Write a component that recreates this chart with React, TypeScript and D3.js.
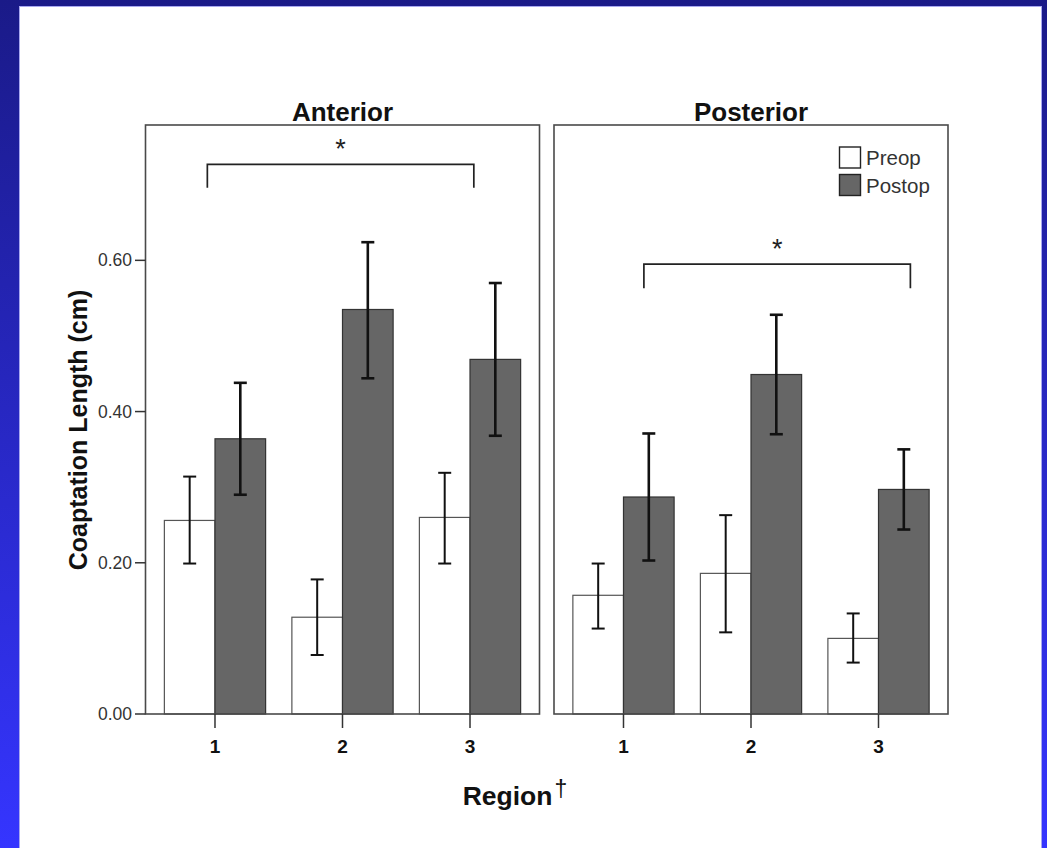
import React from "react";
import * as d3 from "d3";

// ---------- data ----------
const panels = ["Anterior", "Posterior"];
const regions = ["1", "2", "3"];
const series = ["Preop", "Postop"];

const anteriorPreop = [0.256, 0.128, 0.26];
const anteriorPreopLow = [0.199, 0.078, 0.199];
const anteriorPreopHigh = [0.314, 0.178, 0.319];
const anteriorPostop = [0.364, 0.535, 0.469];
const anteriorPostopLow = [0.29, 0.444, 0.368];
const anteriorPostopHigh = [0.438, 0.624, 0.57];

const posteriorPreop = [0.157, 0.186, 0.1];
const posteriorPreopLow = [0.113, 0.108, 0.068];
const posteriorPreopHigh = [0.199, 0.263, 0.133];
const posteriorPostop = [0.287, 0.449, 0.297];
const posteriorPostopLow = [0.203, 0.37, 0.244];
const posteriorPostopHigh = [0.371, 0.528, 0.35];

const yTicks = [0, 0.2, 0.4, 0.6];
const yMax = 0.779;

// significance brackets: from/to in region-index units
const brackets = [
  { panel: "Anterior", from: -0.06, to: 2.03, top: 0.727, leg: 0.696, star: 0.755 },
  { panel: "Posterior", from: 0.16, to: 2.25, top: 0.595, leg: 0.563, star: 0.623 },
];

const values: Record<string, Record<string, { v: number[]; lo: number[]; hi: number[] }>> = {
  Anterior: {
    Preop: { v: anteriorPreop, lo: anteriorPreopLow, hi: anteriorPreopHigh },
    Postop: { v: anteriorPostop, lo: anteriorPostopLow, hi: anteriorPostopHigh },
  },
  Posterior: {
    Preop: { v: posteriorPreop, lo: posteriorPreopLow, hi: posteriorPreopHigh },
    Postop: { v: posteriorPostop, lo: posteriorPostopLow, hi: posteriorPostopHigh },
  },
};

// ---------- layout ----------
const W = 1047;
const H = 848;
const plotTop = 125;
const plotBottom = 714;
const panelRanges: [number, number][] = [
  [145.5, 539.5],
  [554, 948],
];
const FONT = "'Liberation Sans', Arial, Helvetica, sans-serif";
const fills: Record<string, string> = { Preop: "#ffffff", Postop: "#666666" };
const strokes: Record<string, string> = { Preop: "#555555", Postop: "#333333" };

export default function App() {
  const y = d3.scaleLinear().domain([0, yMax]).range([plotBottom, plotTop]);
  const fmt = d3.format(".2f");

  return (
    <svg
      width={W}
      height={H}
      style={{ position: "fixed", left: 0, top: 0, display: "block" }}
      fontFamily={FONT}
    >
      <defs>
        <linearGradient id="bg" x1="0" y1="0" x2="0" y2="1">
          <stop offset="0%" stopColor="#1a1a88" />
          <stop offset="100%" stopColor="#3535ff" />
        </linearGradient>
      </defs>
      <rect x={0} y={0} width={W} height={H} fill="url(#bg)" />
      <rect x={19.5} y={6.5} width={1022} height={H} fill="#ffffff" stroke="#a8a8f0" strokeWidth={1} />

      {panels.map((p, pi) => {
        const [x0, x1] = panelRanges[pi];
        const xb = d3.scaleBand<string>().domain(regions).range([x0, x1]).paddingInner(0.206).paddingOuter(0.148);
        const xs = d3.scaleBand<string>().domain(series).range([0, xb.bandwidth()]);
        const center = (r: string) => (xb(r) as number) + xb.bandwidth() / 2;
        const idx = d3.scaleLinear().domain([0, 1]).range([center(regions[0]), center(regions[1])]);
        return (
          <g key={p}>
            {/* bars */}
            {series.map((s) =>
              regions.map((r, i) => {
                const d = values[p][s];
                const bx = (xb(r) as number) + (xs(s) as number);
                const bw = xs.bandwidth();
                return (
                  <rect
                    key={s + r}
                    x={bx}
                    y={y(d.v[i])}
                    width={bw}
                    height={plotBottom - y(d.v[i])}
                    fill={fills[s]}
                    stroke={strokes[s]}
                    strokeWidth={1.2}
                  />
                );
              })
            )}
            {/* error bars */}
            {series.map((s) =>
              regions.map((r, i) => {
                const d = values[p][s];
                const cx = (xb(r) as number) + (xs(s) as number) + xs.bandwidth() / 2;
                const sw = s === "Postop" ? 2.6 : 2;
                return (
                  <g key={"e" + s + r} stroke="#111" strokeWidth={sw}>
                    <line x1={cx} x2={cx} y1={y(d.lo[i])} y2={y(d.hi[i])} />
                    <line x1={cx - 6.5} x2={cx + 6.5} y1={y(d.lo[i])} y2={y(d.lo[i])} />
                    <line x1={cx - 6.5} x2={cx + 6.5} y1={y(d.hi[i])} y2={y(d.hi[i])} />
                  </g>
                );
              })
            )}
            {/* frame */}
            <rect x={x0} y={plotTop} width={x1 - x0} height={plotBottom - plotTop} fill="none" stroke="#4a4a4a" strokeWidth={1.6} />
            {/* x ticks */}
            {regions.map((r) => (
              <g key={"xt" + r}>
                <line x1={center(r)} x2={center(r)} y1={plotBottom} y2={plotBottom + 14} stroke="#333" strokeWidth={1.5} />
                <text x={center(r)} y={752.5} textAnchor="middle" fontSize={19} fontWeight="bold" fill="#111">
                  {r}
                </text>
              </g>
            ))}
            {/* title */}
            <text x={(x0 + x1) / 2} y={120.5} textAnchor="middle" fontSize={26} fontWeight="bold" fill="#111">
              {p}
            </text>
            {/* brackets */}
            {brackets
              .filter((b) => b.panel === p)
              .map((b, k) => {
                const bx0 = idx(b.from);
                const bx1 = idx(b.to);
                return (
                  <g key={"br" + k}>
                    <path
                      d={`M${bx0},${y(b.leg)}V${y(b.top)}H${bx1}V${y(b.leg)}`}
                      fill="none"
                      stroke="#222"
                      strokeWidth={1.7}
                    />
                    <text x={(bx0 + bx1) / 2} y={y(b.star) + 15} textAnchor="middle" fontSize={27} fill="#222">
                      *
                    </text>
                  </g>
                );
              })}
          </g>
        );
      })}

      {/* y axis ticks */}
      {yTicks.map((t) => (
        <g key={"yt" + t}>
          <line x1={135} x2={panelRanges[0][0]} y1={y(t)} y2={y(t)} stroke="#333" strokeWidth={1.5} />
          <text x={132} y={y(t) + 6} textAnchor="end" fontSize={17.5} fill="#333">
            {fmt(t)}
          </text>
        </g>
      ))}

      {/* legend */}
      {series.map((s, i) => (
        <g key={"lg" + s}>
          <rect x={839.5} y={147 + i * 27.5} width={21} height={21} fill={fills[s]} stroke="#222" strokeWidth={1.4} />
          <text x={866} y={165 + i * 27.5} fontSize={20.5} fill="#333">
            {s}
          </text>
        </g>
      ))}

      {/* axis titles */}
      <text transform="translate(87,430) rotate(-90)" textAnchor="middle" fontSize={25} fontWeight="bold" fill="#111">
        Coaptation Length (cm)
      </text>
      <text x={515} y={805} textAnchor="middle" fill="#111">
        <tspan fontSize={26.5} fontWeight="bold">Region</tspan>
        <tspan fontSize={23} dy={-8} dx={2}>†</tspan>
      </text>
    </svg>
  );
}
